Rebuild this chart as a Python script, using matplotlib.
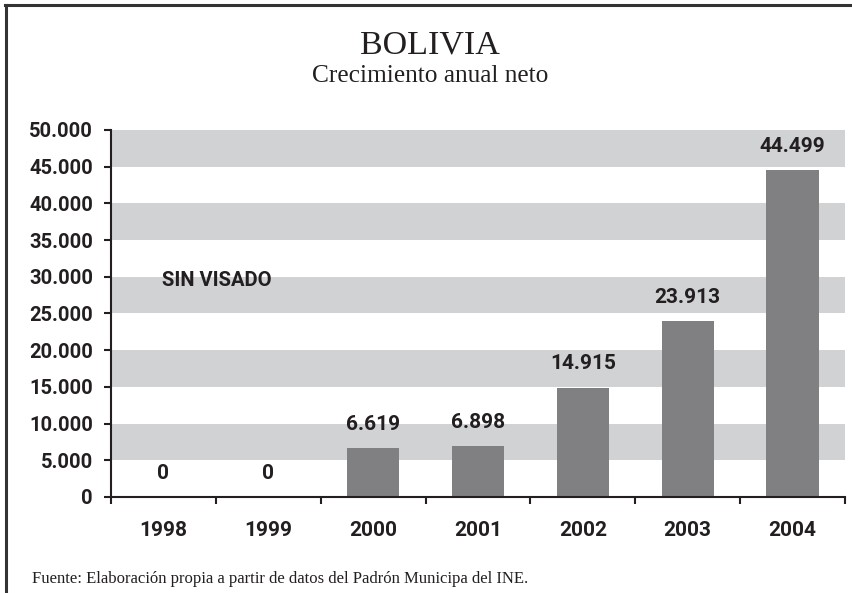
import matplotlib.pyplot as plt
from matplotlib.lines import Line2D
import numpy as np

years = ["1998", "1999", "2000", "2001", "2002", "2003", "2004"]
growth = [0, 0, 6619, 6898, 14915, 23913, 44499]
bar_labels = ["0", "0", "6.619", "6.898", "14.915", "23.913", "44.499"]
yticks = [0, 5000, 10000, 15000, 20000, 25000, 30000, 35000, 40000, 45000, 50000]
ytick_labels = ["0", "5.000", "10.000", "15.000", "20.000", "25.000",
                "30.000", "35.000", "40.000", "45.000", "50.000"]

sans = ["Roboto", "DejaVu Sans"]
serif = ["Liberation Serif", "DejaVu Serif"]
dark = "#231f20"

fig = plt.figure(figsize=(8.52, 5.93), dpi=100)
ax = fig.add_axes([0.1303, 0.1619, 0.8615, 0.6189])

# grey bands every other 5.000
for lo in range(5000, 50000, 10000):
    ax.axhspan(lo, lo + 5000, color="#d1d2d4", lw=0, zorder=0)

x = np.arange(len(years))
ax.bar(x, growth, width=0.5, color="#808083", zorder=2)
for xi, val, lab in zip(x, growth, bar_labels):
    ax.annotate(lab, (xi, val), xytext=(0, 13), textcoords="offset points",
                ha="center", va="baseline", fontsize=15, fontweight="bold",
                family=sans, color=dark)

ax.text(-0.01, 29500, "SIN VISADO", ha="left", va="center", fontsize=14.5,
        fontweight="bold", family=sans, color=dark)

ax.set_xlim(-0.5, len(years) - 0.5)
ax.set_ylim(0, 50000)
ax.set_yticks(yticks)
ax.set_yticklabels(ytick_labels, family=sans, fontweight="bold", fontsize=14.5, color=dark)
ax.set_xticks(x)
ax.set_xticklabels(years, family=sans, fontweight="bold", fontsize=15, color=dark)
ax.set_xticks(np.arange(-0.5, len(years)), minor=True)
ax.tick_params(axis="x", which="major", length=0, pad=17.5)
ax.tick_params(axis="x", which="minor", length=5, width=1.5, color=dark)
ax.tick_params(axis="y", length=5, width=1.5, color=dark, pad=8)

for side in ["top", "right"]:
    ax.spines[side].set_visible(False)
for side in ["left", "bottom"]:
    ax.spines[side].set_linewidth(1.5)
    ax.spines[side].set_color(dark)

fig.text(0.505, 0.91, "BOLIVIA", ha="center", va="baseline", fontsize=24.5,
         family=serif, color=dark)
fig.text(0.505, 0.862, "Crecimiento anual neto", ha="center", va="baseline",
         fontsize=18.3, family=serif, color=dark)
fig.text(0.038, 0.017, "Fuente: Elaboración propia a partir de datos del Padrón Municipa del INE.",
         ha="left", va="baseline", fontsize=12, family=serif, color=dark)

# frame: only top and left edges
fig.add_artist(Line2D([0.007, 0.007], [0, 0.991], transform=fig.transFigure,
                      color="#333333", lw=2.2))
fig.add_artist(Line2D([0.006, 1], [0.991, 0.991], transform=fig.transFigure,
                      color="#333333", lw=2.2))

fig.savefig("out.png", dpi=100)
